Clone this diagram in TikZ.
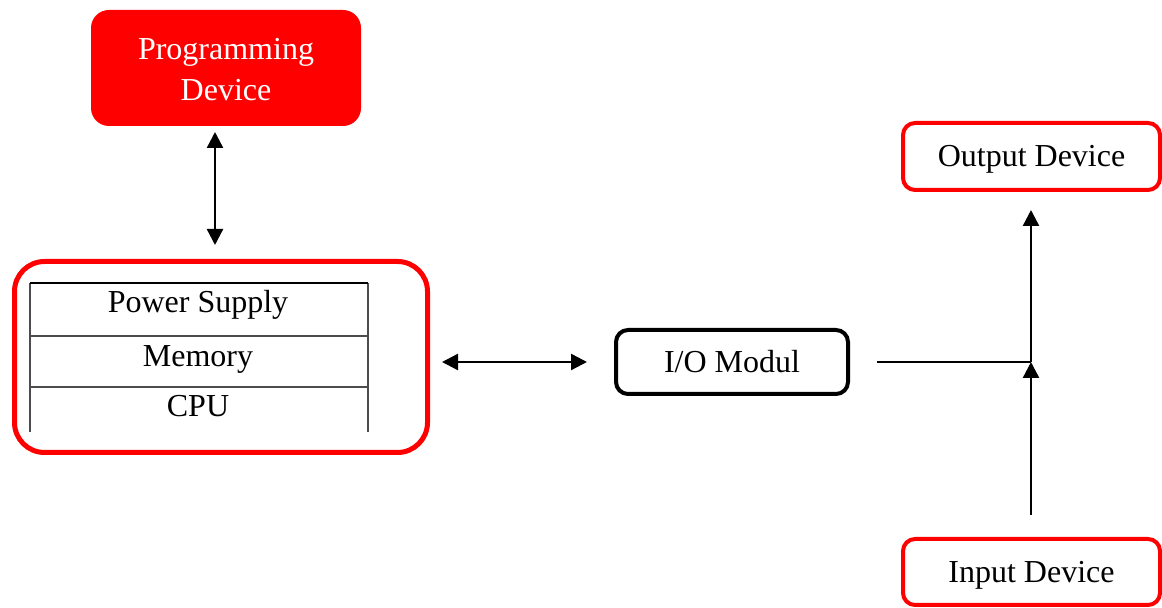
\documentclass[tikz,border=0pt]{standalone}
\usepackage{fontspec}
\setmainfont{Liberation Serif}
\usetikzlibrary{arrows.meta,positioning}
\tikzset{>={Triangle[length=8pt,width=8pt]}}
\tikzset{
  redbox/.style={draw=red,line width=2pt,rounded corners=6pt,inner sep=0pt,
    text height=13pt,text depth=2.5pt},
  cell/.style={inner sep=0pt,anchor=base},
  link/.style={line width=1.2pt}
}

\begin{document}
\begin{tikzpicture}[x=0.5pt,y=-0.5pt,font=\fontsize{16}{20.5}\selectfont]
    \useasboundingbox (0,0) rectangle (1162,608);
    % PLC with its parts
    \node[draw=red,line width=2.5pt,rounded corners=15pt,minimum width=206.5pt,minimum height=95.5pt] (plc) at (221,357) {};
    \draw[gray!60!black,line width=0.6pt] (30,432) -- (30,283) (368,283) -- (368,432);
    \draw[gray!60!black,line width=0.6pt] (30,336) -- (368,336) (30,387) -- (368,387);
    \draw[line width=0.6pt] (30,283) -- (368,283);
    \node[cell] (psu) at (198,313) {Power Supply};
    \node[cell] (mem) at (198,367) {Memory};
    \node[cell] (cpu) at (198,417) {CPU};
    % devices round it
    \node[fill=red,text=white,rounded corners=9pt,align=center,minimum width=135pt,minimum height=58pt,inner sep=0pt,
      text height=33pt,text depth=0pt] (prog) at (226,68) {Programming\\Device};
    \node[draw,line width=2pt,rounded corners=6pt,minimum width=116pt,minimum height=32pt,inner sep=0pt,
      text height=13pt,text depth=2.5pt] (io) at (732,362) {I/O Modul};
    \node[redbox,minimum width=128.5pt,minimum height=33.5pt] (out) at (1031.5,156.5) {Output Device};
    \node[redbox,minimum width=128.5pt,minimum height=33pt] (in) at (1031.5,572) {Input Device};
    % connections
    \coordinate (join) at (1031,362);
    \coordinate (progend) at (215,132);
    \coordinate (plctop) at (215,245);
    \coordinate (plcright) at (442,362);
    \coordinate (ioleft) at (587,362);
    \coordinate (ioright) at (877,362);
    \coordinate (outend) at (1031,210);
    \coordinate (inend) at (1031,515);
    \draw[link,<->] (progend) -- (plctop);
    \draw[link,<->] (plcright) -- (ioleft);
    \draw[line width=0.8pt] (ioright) -- (join);
    \draw[link,->] (join) -- (outend);
    \draw[link,->] (inend) -- (join);
\end{tikzpicture}
\end{document}
